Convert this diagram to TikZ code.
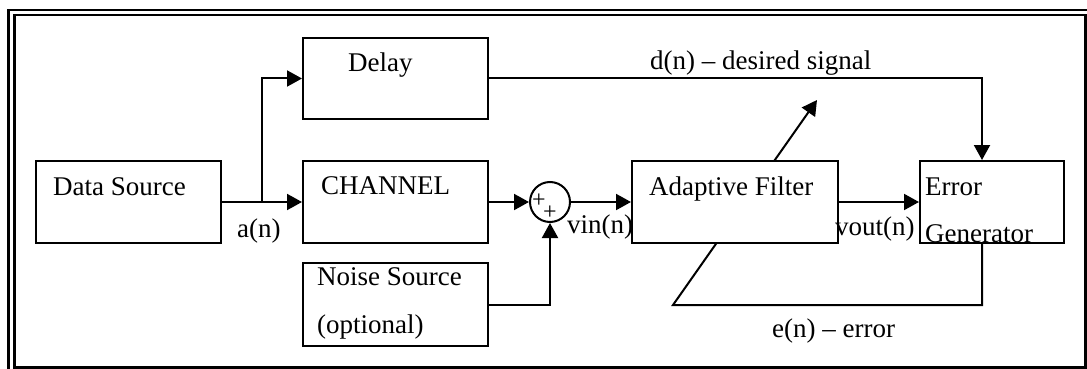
\documentclass[tikz,border=0pt]{standalone}
\usepackage{fontspec}
\setmainfont{Liberation Serif}
\usetikzlibrary{arrows.meta,backgrounds}

\tikzset{
  blk/.style={draw, line width=2pt, fill=white, inner sep=0pt},
  txt/.style={anchor=base west, inner sep=0pt, font=\fontsize{27}{32}\selectfont},
  sgn/.style={inner sep=0pt, font=\fontsize{24}{26}\selectfont},
  wire/.style={line width=2pt, -{Triangle[length=15pt,width=16pt]}},
  frame/.style={line width=2.5pt}
}

\begin{document}
\begin{tikzpicture}[x=1pt,y=-1pt]
\clip (0,0) rectangle (1087,369);

% double frame
\draw[frame] (8.5,10) rectangle (1093,374);
\draw[frame] (14.5,15) rectangle (1085.5,367.5);

% blocks
\node[blk, minimum width=185pt, minimum height=82pt] (src)   at (128.5,202) {};
\node[blk, minimum width=185pt, minimum height=81pt] (delay) at (395.5,78.5) {};
\node[blk, minimum width=185pt, minimum height=82pt] (chan)  at (395.5,202) {};
\node[blk, minimum width=185pt, minimum height=83pt] (noise) at (395.5,304.5) {};
\node[blk, minimum width=206pt, minimum height=82pt] (af)    at (735,202) {};
\node[blk, minimum width=144pt, minimum height=82pt] (eg)    at (992,202) {};
\node[draw, line width=2pt, circle, minimum size=40pt, inner sep=0pt] (sum) at (550,202) {};

% block texts
\node[txt] (tsrc)   at (53,195)  {Data Source};
\node[txt] (tdelay) at (348,71)  {Delay};
\node[txt] (tchan)  at (321,194) {CHANNEL};
\node[txt] (tnz1)   at (317,285) {Noise Source};
\node[txt] (tnz2)   at (317,333) {(optional)};
\node[txt] (taf)    at (649,195) {Adaptive Filter};
\node[txt] (teg1)   at (925,195) {Error};
\node[txt] (teg2)   at (925,242) {Generator};
\node[sgn] (p1) at (539,201) {+};
\node[sgn] (p2) at (550,213) {+};

% signal labels
\node[txt] (lan)   at (237,237) {a(n)};
\node[txt] (lvin)  at (567,233) {vin(n)};
\node[txt] (lvout) at (835,235) {vout(n)};
\node[txt] (ld)    at (650,70)  {d(n) – desired signal};
\node[txt] (le)    at (772,337) {e(n) – error};

% helper points
\coordinate (br)  at (262,202);
\coordinate (tap) at (982,0);
\coordinate (fb)  at (673,305);
\coordinate (tip) at (817,100);

% connections
\draw[wire] (src.east) -- (chan.west);
\draw[wire] (br) |- (delay.west);
\draw[wire] (chan.east) -- (sum.west);
\draw[wire] (noise.east) -| (sum.south);
\draw[wire] (sum.east) -- (af.west);
\draw[wire] (af.east) -- (eg.west);
\draw[wire] (delay.east) -| (tap |- eg.north);

% error feedback, passing behind the filter block
\begin{scope}[on background layer]
\draw[wire] (tap |- eg.south) |- (fb) -- (tip);
\end{scope}
\end{tikzpicture}
\end{document}
